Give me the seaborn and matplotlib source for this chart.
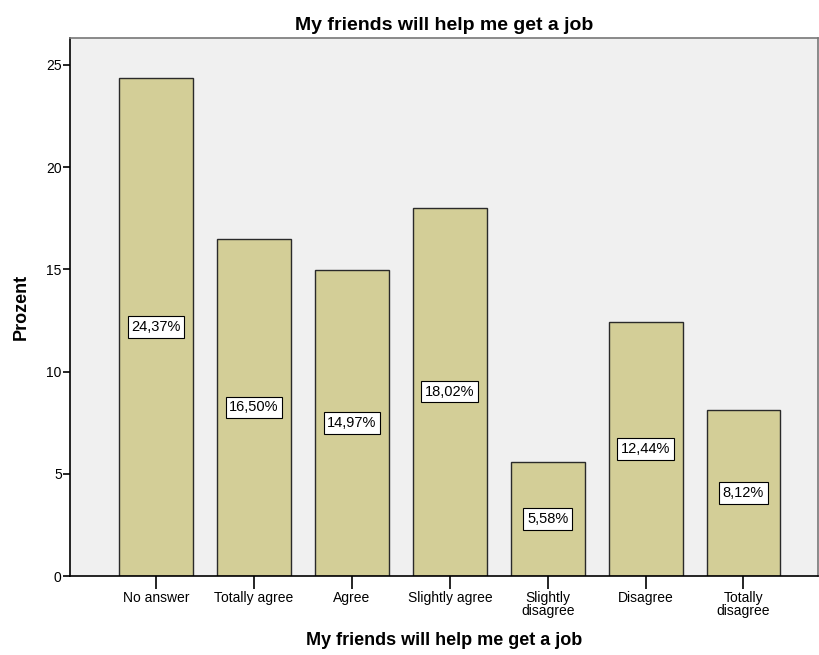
import numpy as np
import pandas as pd
import matplotlib
matplotlib.use("Agg")
import matplotlib.pyplot as plt
import seaborn as sns

# ================= DATA =================
categories = ["No answer", "Totally agree", "Agree", "Slightly agree",
              "Slightly\ndisagree", "Disagree", "Totally\ndisagree"]
percent = [24.37, 16.50, 14.97, 18.02, 5.58, 12.44, 8.12]
pct_labels = ["24,37%", "16,50%", "14,97%", "18,02%", "5,58%", "12,44%", "8,12%"]
y_ticks = [0, 5, 10, 15, 20, 25]

df = pd.DataFrame({"cat": categories, "pct": percent})

# ================= STYLE =================
sns.set_style("white")
plt.rcParams['font.family'] = ['Liberation Sans', 'DejaVu Sans']
plt.rcParams['text.color'] = "black"
plt.rcParams['axes.labelcolor'] = "black"
plt.rcParams['xtick.color'] = "black"
plt.rcParams['ytick.color'] = "black"

fig = plt.figure(figsize=(8.2, 6.55), dpi=100)
ax = fig.add_axes([0.0854, 0.1206, 0.912, 0.8214])
ax.set_facecolor("#F0F0F0")

sns.barplot(data=df, x="cat", y="pct", color="#D3CE97", width=0.755,
            edgecolor="#2a2a2a", linewidth=1.0, saturation=1, ax=ax)

for i, (v, lab) in enumerate(zip(percent, pct_labels)):
    ax.text(i, v / 2, lab, ha="center", va="center", fontsize=10.5,
            bbox=dict(boxstyle="square,pad=0.25", fc="white", ec="black", lw=0.8))

ax.set_xlim(-0.88, 6.76)
ax.set_ylim(0, 26.32)
ax.set_yticks(y_ticks)
ax.set_yticklabels([str(t) for t in y_ticks], fontsize=10)
ax.tick_params(axis="y", left=True, direction="out", length=5, width=1.2, pad=1)
ax.tick_params(axis="x", bottom=True, direction="out", length=9, width=1.2,
               labelsize=10, pad=2)
for lbl in ax.get_xticklabels():
    lbl.set_linespacing(0.85)

for s in ["left", "bottom"]:
    ax.spines[s].set_color("black")
    ax.spines[s].set_linewidth(1.2)
for s in ["top", "right"]:
    ax.spines[s].set_color("#777777")
    ax.spines[s].set_linewidth(1.2)

ax.set_title("My friends will help me get a job", fontsize=14, fontweight="bold", pad=6)
ax.set_ylabel("Prozent", fontsize=13, fontweight="bold", labelpad=12)
ax.set_xlabel("My friends will help me get a job", fontsize=13, fontweight="bold", labelpad=10)

plt.savefig("out.png", dpi=100)
